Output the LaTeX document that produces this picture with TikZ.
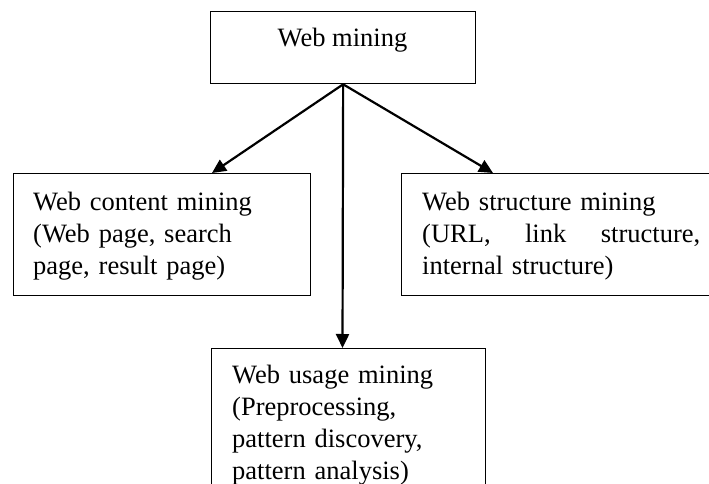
\documentclass[tikz,border=0pt]{standalone}
\usepackage{fontspec}
\setmainfont{Liberation Serif}
\usetikzlibrary{arrows.meta}
\begin{document}
\begin{tikzpicture}[x=1pt,y=-1pt,
  box/.style={draw, line width=1.3pt, rectangle, inner sep=0pt, anchor=north west},
  lbl/.style={anchor=north west, inner sep=0pt, align=left, font=\fontsize{26.5}{32}\selectfont},
  conn/.style={line width=2.2pt, -{Triangle[length=14pt,width=13pt]}}]
\clip (0,0) rectangle (709,484);
\fill[white] (0,0) rectangle (709,484);
% boxes
\node[box, minimum width=265pt, minimum height=72pt] (web) at (210,11) {};
\node[box, minimum width=297pt, minimum height=122pt] (content) at (13,173) {};
\node[box, minimum width=330pt, minimum height=122pt] (structure) at (401,173) {};
\node[box, minimum width=274pt, minimum height=150pt] (usage) at (211,348) {};
% texts
\node[anchor=base, inner sep=0pt, font=\fontsize{26.5}{32}\selectfont] (webtext) at (342.5,47) {Web mining};
\node[lbl, text width=270pt] (contenttext) at (33,192) {Web content mining\\(Web page, search\\page, result page)};
\node[lbl, text width=278pt] (structuretext) at (422,192) {Web structure mining\\(URL,\hfill link\hfill structure,\\internal structure)};
\node[lbl, text width=250pt] (usagetext) at (232,365) {Web usage mining\\(Preprocessing,\\pattern discovery,\\pattern analysis)};
% arrow targets
\coordinate (ctip) at (212,173);
\coordinate (stip) at (493,173);
\coordinate (utip) at (342.5,348);
\draw[conn] (web.south) -- (ctip);
\draw[conn] (web.south) -- (stip);
\draw[conn] (web.south) -- (utip);
\end{tikzpicture}
\end{document}
